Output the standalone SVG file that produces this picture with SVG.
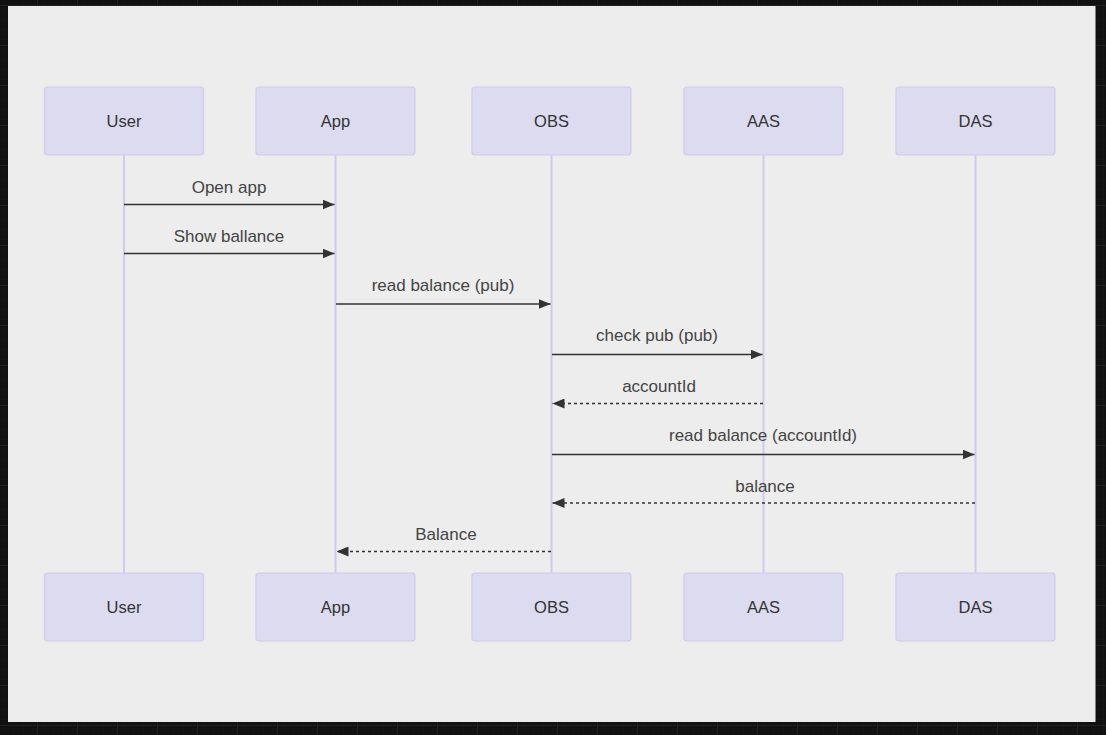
<svg xmlns="http://www.w3.org/2000/svg" width="1106" height="735" viewBox="0 0 1106 735">
<defs>
<pattern id="minor" width="10" height="10" patternUnits="userSpaceOnUse" x="-3" y="5">
<path d="M10 0V10M0 10H10" fill="none" stroke="#161616" stroke-width="1"/>
</pattern>
<pattern id="grid" width="40" height="40" patternUnits="userSpaceOnUse" x="-3" y="5">
<rect width="40" height="40" fill="url(#minor)"/>
<path d="M0.5 0V40M0 0.5H40" fill="none" stroke="#222" stroke-width="1"/>
</pattern>
<marker id="arrow" viewBox="0 0 12 10" refX="12" refY="5" markerWidth="12" markerHeight="10" markerUnits="userSpaceOnUse" orient="auto">
<path d="M0 0L12 5L0 10Z" fill="#333"/>
</marker>
</defs>
<style>
.actor{fill:#dcdbf0;stroke:#d2caec;stroke-width:1.2}
.atext{font-family:"Liberation Sans",Arial,sans-serif;font-size:16.5px;fill:#333;text-anchor:middle;dominant-baseline:central}
.life{stroke:#d3c9ec;stroke-width:2;fill:none}
.msg{stroke:#333;stroke-width:1.5;fill:none}
.dash{stroke-dasharray:3 3}
.mtext{font-family:"Liberation Sans",Arial,sans-serif;font-size:17px;fill:#444;text-anchor:middle;dominant-baseline:central}
</style>
<rect width="1106" height="735" fill="#111"/>
<rect width="1106" height="735" fill="url(#grid)"/>
<rect x="8" y="6" width="1087.5" height="716" fill="#ededed"/>
<g id="lifelines">
<line class="life" x1="124" y1="155" x2="124" y2="573"/>
<line class="life" x1="335.5" y1="155" x2="335.5" y2="573"/>
<line class="life" x1="551.5" y1="155" x2="551.5" y2="573"/>
<line class="life" x1="763.5" y1="155" x2="763.5" y2="573"/>
<line class="life" x1="975.5" y1="155" x2="975.5" y2="573"/>
</g>
<g id="actor-user-top"><rect class="actor" x="44.5" y="87" width="159" height="68" rx="3"/><text class="atext" x="124" y="121">User</text></g>
<g id="actor-app-top"><rect class="actor" x="256" y="87" width="159" height="68" rx="3"/><text class="atext" x="335.5" y="121">App</text></g>
<g id="actor-obs-top"><rect class="actor" x="472" y="87" width="159" height="68" rx="3"/><text class="atext" x="551.5" y="121">OBS</text></g>
<g id="actor-aas-top"><rect class="actor" x="684" y="87" width="159" height="68" rx="3"/><text class="atext" x="763.5" y="121">AAS</text></g>
<g id="actor-das-top"><rect class="actor" x="896" y="87" width="159" height="68" rx="3"/><text class="atext" x="975.5" y="121">DAS</text></g>
<g id="actor-user-bottom"><rect class="actor" x="44.5" y="573" width="159" height="68" rx="3"/><text class="atext" x="124" y="607">User</text></g>
<g id="actor-app-bottom"><rect class="actor" x="256" y="573" width="159" height="68" rx="3"/><text class="atext" x="335.5" y="607">App</text></g>
<g id="actor-obs-bottom"><rect class="actor" x="472" y="573" width="159" height="68" rx="3"/><text class="atext" x="551.5" y="607">OBS</text></g>
<g id="actor-aas-bottom"><rect class="actor" x="684" y="573" width="159" height="68" rx="3"/><text class="atext" x="763.5" y="607">AAS</text></g>
<g id="actor-das-bottom"><rect class="actor" x="896" y="573" width="159" height="68" rx="3"/><text class="atext" x="975.5" y="607">DAS</text></g>
<g id="connectors">
<line class="msg" x1="124" y1="204.5" x2="334.5" y2="204.5" marker-end="url(#arrow)"/>
<line class="msg" x1="124" y1="253.5" x2="334.5" y2="253.5" marker-end="url(#arrow)"/>
<line class="msg" x1="336" y1="304" x2="550.5" y2="304" marker-end="url(#arrow)"/>
<line class="msg" x1="552" y1="354.5" x2="762.5" y2="354.5" marker-end="url(#arrow)"/>
<line class="msg dash" x1="763" y1="403.5" x2="552.5" y2="403.5" marker-end="url(#arrow)"/>
<line class="msg" x1="552" y1="454.5" x2="974.5" y2="454.5" marker-end="url(#arrow)"/>
<line class="msg dash" x1="975" y1="503" x2="552.5" y2="503" marker-end="url(#arrow)"/>
<line class="msg dash" x1="551" y1="551.5" x2="336.5" y2="551.5" marker-end="url(#arrow)"/>
</g>
<g id="labels">
<text class="mtext" x="229" y="187">Open app</text>
<text class="mtext" x="229" y="236">Show ballance</text>
<text class="mtext" x="443" y="285">read balance (pub)</text>
<text class="mtext" x="657" y="335">check pub (pub)</text>
<text class="mtext" x="659" y="386">accountId</text>
<text class="mtext" x="763" y="435">read balance (accountId)</text>
<text class="mtext" x="765" y="486">balance</text>
<text class="mtext" x="446" y="534">Balance</text>
</g>
</svg>
